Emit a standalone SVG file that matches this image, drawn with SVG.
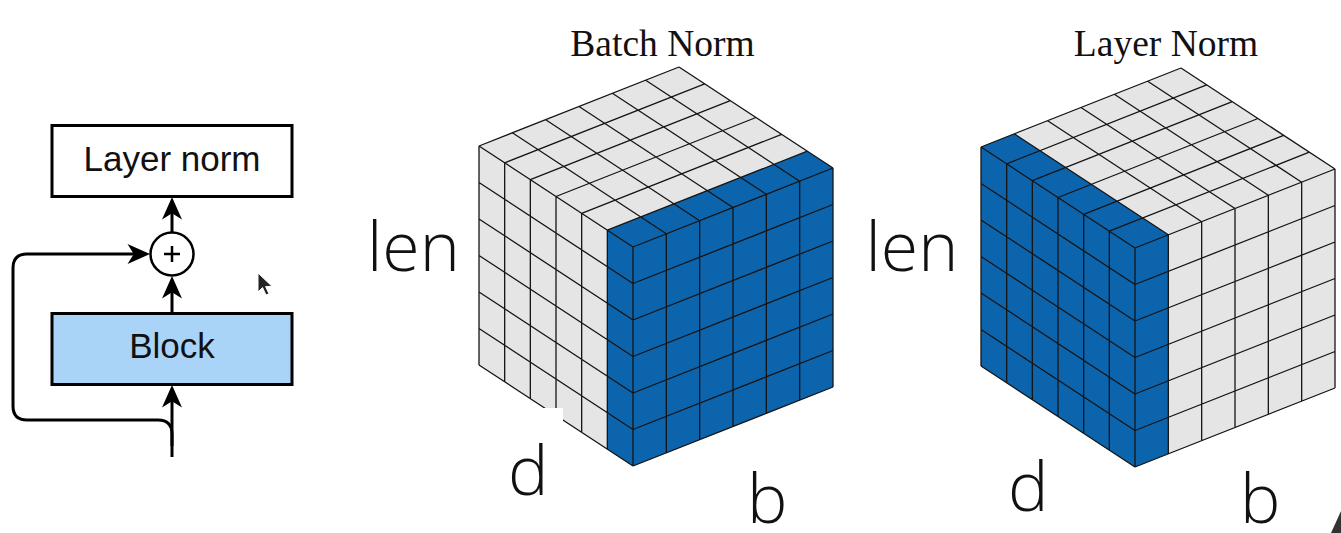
<svg xmlns="http://www.w3.org/2000/svg" xmlns:xlink="http://www.w3.org/1999/xlink" width="1341" height="533" viewBox="0 0 1341 533">
<style>
.box{fill:#ffffff;stroke:#000;stroke-width:3}
.blk{fill:#aad3f8;stroke:#000;stroke-width:3}
.lbl{font-family:"Liberation Sans",Arial,sans-serif;font-size:35px;fill:#111;text-anchor:middle}
.conn{fill:none;stroke:#000;stroke-width:3}
.title{font-family:"Liberation Serif","Times New Roman",serif;font-size:37.5px;fill:#111;text-anchor:middle}
.axis{font-family:"Open Sans","Noto Sans",sans-serif;font-weight:300;font-size:68px;fill:#111}
.gray{fill:#e5e5e5}
.blue{fill:#0c64ad}
.grid{fill:none;stroke:#151515;stroke-width:1.3;stroke-linejoin:round}
</style>
<defs>
<marker id="arr" markerUnits="userSpaceOnUse" markerWidth="30" markerHeight="30" viewBox="-16 -10 24 20" refX="0" refY="0" orient="auto">
<path d="M4,0 L-14,-8 L-9,0 L-14,8 Z" fill="#000"/>
</marker>
<path id="cubegrid" class="grid" d="M0,0L200,-79 M25.67,16.83L225.67,-62.17 M51.33,33.67L251.33,-45.33 M77,50.5L277,-28.5 M102.67,67.33L302.67,-11.67 M128.33,84.17L328.33,5.17 M154,101L354,22 M0,0L154,101 M33.33,-13.17L187.33,87.83 M66.67,-26.33L220.67,74.67 M100,-39.5L254,61.5 M133.33,-52.67L287.33,48.33 M166.67,-65.83L320.67,35.17 M200,-79L354,22 M0,0V219 M25.67,16.83V235.83 M51.33,33.67V252.67 M77,50.5V269.5 M102.67,67.33V286.33 M128.33,84.17V303.17 M154,101V320 M0,36.5L154,137.5 M0,73L154,174 M0,109.5L154,210.5 M0,146L154,247 M0,182.5L154,283.5 M0,219L154,320 M187.33,87.83V306.83 M220.67,74.67V293.67 M254,61.5V280.5 M287.33,48.33V267.33 M320.67,35.17V254.17 M354,22V241 M154,137.5L354,58.5 M154,174L354,95 M154,210.5L354,131.5 M154,247L354,168 M154,283.5L354,204.5 M154,320L354,241"/>
<polygon id="cubeshape" points="0,0 200,-79 354,22 354,241 154,320 0,219"/>
</defs>
<rect width="1341" height="533" fill="#ffffff"/>

<!-- residual block diagram -->
<g id="connectors">
<path class="conn" d="M172,232 V202" marker-end="url(#arr)"/>
<path class="conn" d="M172,312 V281" marker-end="url(#arr)"/>
<path class="conn" d="M172,457 V390" marker-end="url(#arr)"/>
<path class="conn" d="M172,446 V434 Q172,420 158,420 H27 Q13,420 13,406 V268 Q13,254 27,254 H145" marker-end="url(#arr)"/>
</g>
<g id="node-layernorm">
<rect class="box" x="52" y="125.5" width="240" height="71"/>
<text class="lbl" x="172" y="171">Layer norm</text>
</g>
<g id="node-add">
<circle cx="172" cy="254" r="21.5" fill="#fff" stroke="#000" stroke-width="2.5"/>
<path d="M164,254 H180 M172,246 V262" stroke="#000" stroke-width="2.5"/>
</g>
<g id="node-block">
<rect class="blk" x="52" y="313.5" width="240" height="71"/>
<text class="lbl" x="172" y="358">Block</text>
</g>
<g id="cursor">
<path d="M258,273 V292 L262.5,287.5 L266,295 L269,293.8 L265.6,286.6 L272,286.3 Z" fill="#222" stroke="#fff" stroke-width="1"/>
</g>

<!-- Batch Norm cube -->
<g id="batch-norm">
<text class="title" x="662.5" y="56">Batch Norm</text>
<g transform="translate(479,146)">
<use xlink:href="#cubeshape" class="gray"/>
<polygon class="blue" points="128.33,84.17 328.33,5.17 354,22 354,241 154,320 128.33,303.17"/>
<use xlink:href="#cubegrid"/>
</g>
<rect x="543" y="408" width="20" height="21" fill="#fff"/>
<text class="axis" x="367" y="271">len</text>
<text class="axis" x="508" y="495">d</text>
<text class="axis" x="747" y="523">b</text>
</g>

<!-- Layer Norm cube -->
<g id="layer-norm">
<text class="title" x="1166" y="56">Layer Norm</text>
<g transform="translate(981,147)">
<use xlink:href="#cubeshape" class="gray"/>
<polygon class="blue" points="0,0 33.33,-13.17 187.33,87.83 187.33,306.83 154,320 0,219"/>
<use xlink:href="#cubegrid"/>
</g>
<text class="axis" x="865.5" y="271">len</text>
<text class="axis" x="1008" y="511">d</text>
<text class="axis" x="1240" y="523">b</text>
</g>
<path d="M1341,511 V533 H1331 Z" fill="#333"/>
</svg>
